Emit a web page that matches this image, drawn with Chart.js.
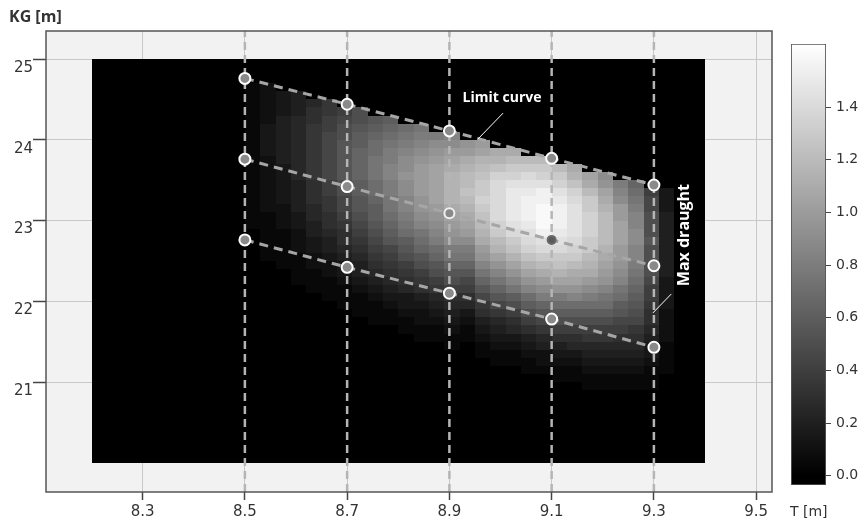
<!DOCTYPE html>
<html>
<head>
<meta charset="utf-8">
<script src="https://cdn.jsdelivr.net/npm/chart.js@4.4.1/dist/chart.umd.min.js"></script>
<style>
  html, body { margin: 0; padding: 0; background: #fff; }
  #wrap { position: relative; width: 864px; height: 522px; }
  #main { position: absolute; left: 0; top: 0; }
  #cb { position: absolute; left: 780px; top: 0; }
  .lbl { position: absolute; color: #333; white-space: nowrap; }
</style>
</head>
<body>
<div id="wrap">
  <canvas id="main" width="864" height="522"></canvas>
  <canvas id="cb" width="84" height="522"></canvas>
  <div class="lbl" style="left:9px;top:5px;font:700 16px 'Open Sans',sans-serif">KG [m]</div>
  <div class="lbl" style="left:790px;top:503px;font:14px 'DejaVu Sans',sans-serif">T [m]</div>
</div>
<script>
// axes
const xRange = [8.111, 9.531];
const yRange = [19.638, 25.347];
const xTicks = [8.3, 8.5, 8.7, 8.9, 9.1, 9.3, 9.5];
const yTicks = [21, 22, 23, 24, 25];
const cbRange = [-0.035, 1.64];
const cbTicks = [0, 0.2, 0.4, 0.6, 0.8, 1.0, 1.2, 1.4];

// draught grid and KG curves
const tValues = [8.5, 8.7, 8.9, 9.1, 9.3];
const limitCurve = [24.76, 24.44, 24.11, 23.77, 23.44];
const midCurve = [23.76, 23.42, 23.09, 22.76, 22.44];
const lowCurve = [22.76, 22.42, 22.10, 21.78, 21.43];

// heat map: 40 x 50 cells over T 8.2..9.4, KG 20..25
// one string per column (from column 10), one base-36 char per row from row 46 downwards, value = char / 20
const heatX0 = 8.2, heatDX = 0.03, heatNX = 40;
const heatY0 = 20, heatDY = 0.1, heatNY = 50;
const heatFirstCol = 10, heatTopRow = 46;
const heatCols = [
  "111111111111111111",
  "2222233332222222111111",
  "03334444443333322211111",
  "0444555555554444332221111",
  "00566777777766655443322111",
  "007788999999887766544322111",
  "00089aabbbbbaa99876654332111",
  "000aabccddddccbba987654432111",
  "0000bcdeefffeedccba98765432111",
  "0000cdefgghhggffedcb9876543211",
  "00000efghiijiihhgfecba876533211",
  "00000fghijkkkkjjihfedba876432211",
  "000000gijklllllkjihgedba87543211",
  "000000hiklmnnnnmlkjigfdba86543211",
  "0000000jkmnooponmlkigfdb98653211",
  "0000000klnopqqrqponmkjhfdb97643211",
  "00000000mnprsssssrqonljhfdb97543211",
  "00000000moqrtuuuutsqpnljhfca8653211",
  "000000000oqstuvvvutsrpnljheca8643211",
  "000000000oqrtvvwwwvtsqomkigdb9754221",
  "0000000000oqrtuvvvutsqpnljgeca8643211",
  "0000000000mnprsttttsrqomljheca8653211",
  "00000000000lmoqqrrrqqonmkigeca87543211",
  "00000000000ijlmnoooonmlkjhfeca87543211",
  "000000000000ghikklllkkjihfecb986543211",
  "000000000000defghhiihhgfedcba976543211",
  "0000000000000899aaabaaaa98876654332111",
  "000000000000033344444444333322221111"
];

// callouts (data coordinates)
const callouts = [
  { text: "Limit curve", size: 14, x: 9.003, y: 24.52, rot: 0, from: [9.005, 24.33], to: [8.956, 24.01] },
  { text: "Max draught", size: 16, x: 9.359, y: 22.82, rot: -90, from: [9.334, 22.09], to: [9.298, 21.855] }
];

const grayOf = v => {
  const g = Math.round(255 * Math.max(0, Math.min(1, v / cbRange[1])));
  return `rgb(${g},${g},${g})`;
};

const heatmap = {
  id: "heatmap",
  beforeDraw(chart) {
    const { ctx, chartArea: a } = chart;
    ctx.save();
    ctx.fillStyle = "#f2f2f2";
    ctx.fillRect(a.left, a.top, a.right - a.left, a.bottom - a.top);
    ctx.restore();
  },
  beforeDatasetsDraw(chart) {
    const { ctx, scales: { x, y } } = chart;
    ctx.save();
    for (let k = 0; k < heatNX; k++) {
      const col = heatCols[k - heatFirstCol] || "";
      const x0 = Math.round(x.getPixelForValue(heatX0 + k * heatDX));
      const x1 = Math.round(x.getPixelForValue(heatX0 + (k + 1) * heatDX));
      for (let j = 0; j < heatNY; j++) {
        const ch = col[heatTopRow - j];
        const v = ch ? parseInt(ch, 36) / 20 : 0;
        const y0 = Math.round(y.getPixelForValue(heatY0 + (j + 1) * heatDY));
        const y1 = Math.round(y.getPixelForValue(heatY0 + j * heatDY));
        ctx.fillStyle = grayOf(v);
        ctx.fillRect(x0, y0, x1 - x0, y1 - y0);
      }
    }
    ctx.restore();
  },
  afterDatasetsDraw(chart) {
    const { ctx, scales: { x, y } } = chart;
    ctx.save();
    ctx.fillStyle = "#fff";
    ctx.strokeStyle = "#fff";
    ctx.lineWidth = 1;
    ctx.textAlign = "center";
    ctx.textBaseline = "middle";
    for (const c of callouts) {
      ctx.beginPath();
      ctx.moveTo(x.getPixelForValue(c.from[0]), y.getPixelForValue(c.from[1]));
      ctx.lineTo(x.getPixelForValue(c.to[0]), y.getPixelForValue(c.to[1]));
      ctx.stroke();
      ctx.save();
      ctx.font = `700 ${c.size}px 'Open Sans', sans-serif`;
      ctx.translate(x.getPixelForValue(c.x), y.getPixelForValue(c.y));
      ctx.rotate(c.rot * Math.PI / 180);
      ctx.fillText(c.text, 0, 0);
      ctx.restore();
    }
    ctx.restore();
  },
  afterDraw(chart) {
    const { ctx, chartArea: a } = chart;
    ctx.save();
    ctx.strokeStyle = "#555";
    ctx.lineWidth = 1.5;
    ctx.strokeRect(a.left, a.top, a.right - a.left, a.bottom - a.top);
    ctx.restore();
  }
};

const curve = (ys, fills, borders, radii) => ({
  data: tValues.map((t, i) => ({ x: t, y: ys[i] })),
  showLine: true, order: 1,
  borderColor: "#a6a6a6", borderWidth: 3, borderDash: [9, 6],
  pointRadius: radii, pointBackgroundColor: fills,
  pointBorderColor: borders, pointBorderWidth: 2
});

const verticals = tValues.map(t => ({
  data: [{ x: t, y: yRange[0] }, { x: t, y: yRange[1] }],
  showLine: true, order: 2,
  borderColor: "#b5b5b5", borderWidth: 2.5, borderDash: [8, 5], pointRadius: 0
}));

const tickFont = { family: "'DejaVu Sans', sans-serif", size: 15 };

new Chart(document.getElementById("main"), {
  type: "scatter",
  data: {
    datasets: [
      curve(limitCurve, "#8a8a8a", "#fff", 5.5),
      curve(midCurve, ["#8a8a8a", "#8a8a8a", "#8a8a8a", "#5a5a5a", "#8a8a8a"],
            ["#fff", "#fff", "#f0f0f0", "#6a6a6a", "#fff"], [5.5, 5.5, 5, 4, 5.5]),
      curve(lowCurve, "#8a8a8a", "#fff", 5.5),
      ...verticals
    ]
  },
  options: {
    responsive: false, animation: false, events: [],
    layout: { padding: { left: 0, top: 31, right: 92, bottom: 0 } },
    plugins: { legend: { display: false }, tooltip: { enabled: false } },
    scales: {
      x: {
        min: xRange[0], max: xRange[1],
        afterBuildTicks: s => { s.ticks = xTicks.map(v => ({ value: v })); },
        afterFit: s => { s.height = 30; },
        border: { display: false },
        grid: { color: "#c8c8c8", tickLength: 8, tickColor: "#444", tickWidth: 1.5 },
        ticks: { color: "#333", font: tickFont, padding: 3, maxRotation: 0, callback: v => v.toFixed(1) }
      },
      y: {
        min: yRange[0], max: yRange[1],
        afterBuildTicks: s => { s.ticks = yTicks.map(v => ({ value: v })); },
        afterFit: s => { s.width = 46; },
        border: { display: false },
        grid: { color: "#c8c8c8", tickLength: 13, tickColor: "#444", tickWidth: 1.5 },
        ticks: { color: "#333", font: tickFont, padding: 0, labelOffset: 9, callback: v => String(v) }
      }
    }
  },
  plugins: [heatmap]
});

// colour bar
new Chart(document.getElementById("cb"), {
  type: "bar",
  data: {
    labels: [""],
    datasets: [{
      data: [[cbRange[0], cbRange[1]]],
      backgroundColor: c => {
        const ch = c.chart, sy = ch.scales.y;
        if (!ch.chartArea || !sy) return "#000";
        const g = ch.ctx.createLinearGradient(0, sy.getPixelForValue(0), 0, sy.getPixelForValue(cbRange[1]));
        g.addColorStop(0, "#000");
        g.addColorStop(1, "#fff");
        return g;
      },
      borderColor: "#555", borderWidth: 1.2, borderSkipped: false,
      barPercentage: 1, categoryPercentage: 1
    }]
  },
  options: {
    responsive: false, animation: false, events: [],
    layout: { padding: { left: 11, top: 44, right: 0, bottom: 37 } },
    plugins: { legend: { display: false }, tooltip: { enabled: false } },
    scales: {
      x: { display: false },
      y: {
        position: "right", min: cbRange[0], max: cbRange[1],
        afterBuildTicks: s => { s.ticks = cbTicks.map(v => ({ value: v })); },
        afterFit: s => { s.width = 38; },
        border: { display: false },
        grid: { drawOnChartArea: false, tickLength: 5, tickColor: "#444" },
        ticks: { color: "#333", font: { family: "'DejaVu Sans', sans-serif", size: 14 }, padding: 5, callback: v => v.toFixed(1) }
      }
    }
  }
});
</script>
</body>
</html>
